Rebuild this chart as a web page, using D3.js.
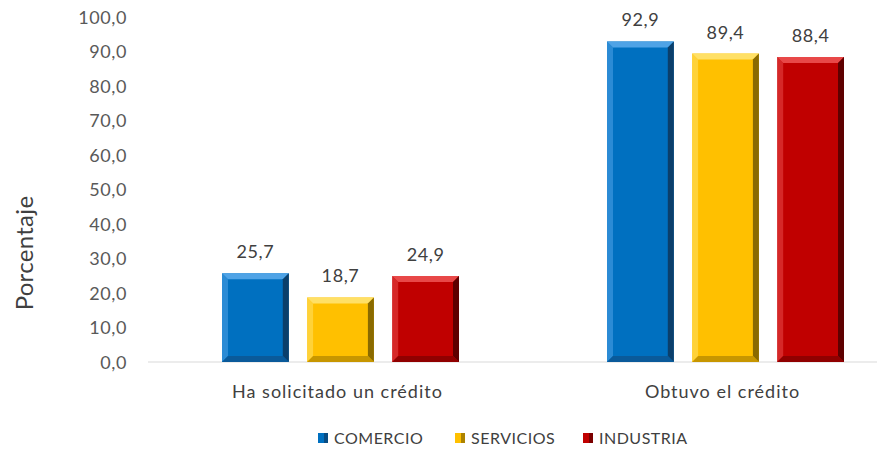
<!DOCTYPE html>
<html><head><meta charset="utf-8">
<script src="https://cdn.jsdelivr.net/npm/d3@7"></script>
<style>body{margin:0;background:#fff}svg{display:block}text{font-family:Lato,"Open Sans",sans-serif}</style>
</head><body><svg id="c" width="877" height="452"></svg>
<script>
const categories = ["Ha solicitado un crédito", "Obtuvo el crédito"];
const seriesNames = ["COMERCIO", "SERVICIOS", "INDUSTRIA"];
const comercio = [25.7, 92.9];
const servicios = [18.7, 89.4];
const industria = [24.9, 88.4];
const yTicks = [0, 10, 20, 30, 40, 50, 60, 70, 80, 90, 100];
const colors = ["#0070C0", "#FFC000", "#C00000"];
const light = ["#4FA3E6", "#FFE066", "#E84848"];
const dark = ["#0B3F6B", "#8A6A00", "#5E0000"];
const mid = ["#0A5A9A", "#C79600", "#900000"];

const series = [comercio, servicios, industria];
const svg = d3.select("#c");
const x0 = d3.scaleBand().domain(categories).range([148, 918]).paddingInner(0).paddingOuter(0);
const x1 = d3.scaleBand().domain(seriesNames).range([74, 385 - 74]).paddingInner(0.215).paddingOuter(0);
const y = d3.scaleLinear().domain([0, 100]).range([362, 17]);
const fmt = v => d3.format(".1f")(v).replace(".", ",");

// y axis tick labels
const yAxis = d3.axisLeft(y).tickValues(yTicks).tickSize(0).tickPadding(0).tickFormat(fmt);
const ga = svg.append("g").attr("transform", "translate(127,0)").call(yAxis);
ga.select(".domain").remove();
ga.selectAll("text").attr("fill", "#595959").style("font-size", "18px").style("letter-spacing", "0.6px")
  .style("font-family", "Lato,'Open Sans',sans-serif").attr("dy", "0.35em");

// baseline
svg.append("line").attr("x1", 148).attr("x2", 918).attr("y1", y(0)).attr("y2", y(0)).attr("stroke", "#D9D9D9").attr("stroke-width", 1.2);

// y title
svg.append("text").attr("transform", "translate(33,253) rotate(-90)").attr("text-anchor", "middle")
  .attr("fill", "#404040").style("font-size", "24px").style("letter-spacing", "0.3px").text("Porcentaje");

// bars with bevel
const b = 6;
categories.forEach((cat, ci) => {
  seriesNames.forEach((s, si) => {
    const v = series[si][ci];
    const xl = x0(cat) + x1(s), w = x1.bandwidth();
    const yt = y(v), yb = y(0), xr = xl + w;
    const g = svg.append("g");
    g.append("rect").attr("x", xl).attr("y", yt).attr("width", w).attr("height", yb - yt).attr("fill", colors[si]);
    const poly = pts => g.append("polygon").attr("points", pts.map(p => p.join(",")).join(" "));
    poly([[xl, yt], [xr, yt], [xr - b, yt + b], [xl + b, yt + b]]).attr("fill", light[si]);
    poly([[xl, yt], [xl + b, yt + b], [xl + b, yb - b], [xl, yb]]).attr("fill", light[si]).attr("opacity", 0.55);
    poly([[xr, yt], [xr, yb], [xr - b, yb - b], [xr - b, yt + b]]).attr("fill", dark[si]);
    poly([[xl, yb], [xl + b, yb - b], [xr - b, yb - b], [xr, yb]]).attr("fill", mid[si]);
    g.append("text").attr("x", xl + w / 2).attr("y", yt - 15).attr("text-anchor", "middle")
      .attr("fill", "#404040").style("font-size", "18px").style("letter-spacing", "0.6px").text(fmt(v));
  });
  svg.append("text").attr("x", x0(cat) + x0.bandwidth() / 2 - 3).attr("y", 398).attr("text-anchor", "middle")
    .attr("fill", "#404040").style("font-size", "18px").style("letter-spacing", "1px").text(cat);
});

// legend
const legX = [318, 455, 583];
seriesNames.forEach((s, i) => {
  const g = svg.append("g").attr("transform", `translate(${legX[i]},433)`);
  g.append("rect").attr("width", 10).attr("height", 10).attr("fill", colors[i]);
  g.append("rect").attr("x", 6).attr("width", 4).attr("height", 10).attr("fill", dark[i]).attr("opacity", 0.7);
  g.append("text").attr("x", 16).attr("y", 5).attr("dy", "0.35em").attr("fill", "#404040")
    .style("font-size", "16px").style("letter-spacing", "0.5px").text(s);
});
</script></body></html>
